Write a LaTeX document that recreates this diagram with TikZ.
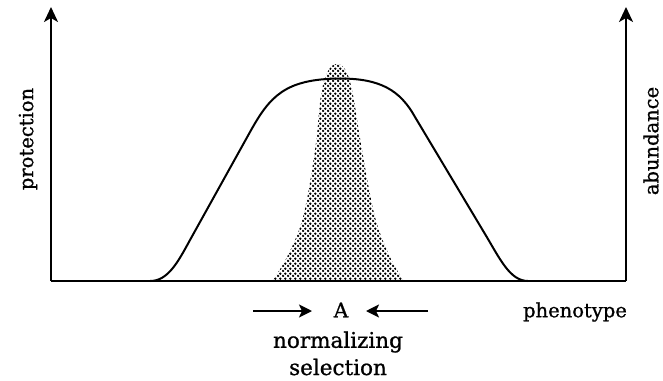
\documentclass[tikz,border=0pt]{standalone}
\usepackage{fontspec}
\setmainfont[FakeBold=1]{DejaVu Serif}
\usetikzlibrary{arrows.meta,patterns.meta}
\tikzdeclarepattern{
  name=mydots, type=uncolored,
  bottom left={(0pt,0pt)}, top right={(4.7pt,4.7pt)},
  tile size={(4.7pt,4.7pt)},
  code={\fill (1.175pt,1.175pt) circle (1.35pt); \fill (3.525pt,3.525pt) circle (1.35pt);}
}
\tikzset{
  axis/.style={line width=2pt, -{Stealth[length=15pt,width=14pt,inset=4pt]}},
  sel/.style={line width=2pt, -{Stealth[length=13pt,width=13pt,inset=3pt]}},
  curve/.style={line width=2pt, line join=round},
  lab/.style={font=\fontsize{19.5}{22}\selectfont, inner sep=0pt},
  big/.style={font=\fontsize{21.5}{24}\selectfont, inner sep=0pt}
}
\begin{document}
\begin{tikzpicture}[x=1pt,y=-1pt]
\useasboundingbox (0,0) rectangle (663,380);
\coordinate (O) at (51,281);
\coordinate (Ltop) at (51,7);
\coordinate (R) at (626,281);
\coordinate (Rtop) at (626,7);
% dotted peak
\fill[pattern=mydots] plot[smooth, tension=0.6] coordinates {(272,281) (287,257) (303,217) (315,150) (321,95) (328,71) (337,64) (346,71) (353,95) (362,150) (375,217) (390,257) (404,281)} -- cycle;
% protection curve
\draw[curve] (150,281) .. controls (168,281) and (178,262) .. (190,240)
  -- (250,132) .. controls (270,96) and (285,79) .. (340,78.5)
  .. controls (380,78.5) and (400,90) .. (415,117)
  -- (485,234) .. controls (500,259) and (510,281) .. (528,281);
% axes
\draw[line width=2pt] (O) -- (R);
\draw[axis] (O) -- (Ltop);
\draw[axis] (R) -- (Rtop);
% labels
\node[lab, rotate=90] (prot) at (28,139) {protection};
\node[lab, rotate=90] (abun) at (651,141) {abundance};
\node[lab] (phen) at (575,312) {phenotype};
\node[font=\fontsize{20}{22}\selectfont, inner sep=0pt] (A) at (341,310) {A};
\node[big] (norm) at (338,342) {normalizing};
\node[big] (selc) at (338,367) {selection};
\coordinate (la) at (253,311);
\coordinate (lt) at (312,311);
\coordinate (ra) at (428,311);
\coordinate (rt) at (366,311);
\draw[sel] (la) -- (lt);
\draw[sel] (ra) -- (rt);
\end{tikzpicture}
\end{document}
